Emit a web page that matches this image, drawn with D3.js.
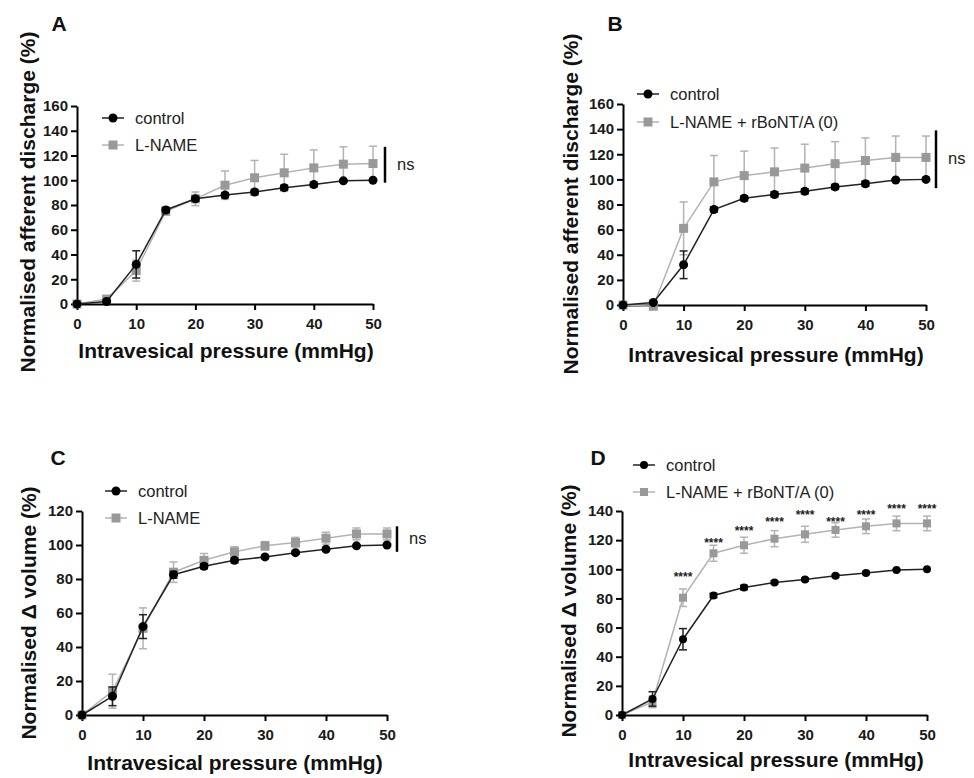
<!DOCTYPE html>
<html><head><meta charset="utf-8">
<script src="https://cdn.jsdelivr.net/npm/d3@7/dist/d3.min.js"></script>
<style>body{margin:0;background:#fff}svg{display:block}text{font-family:"Liberation Sans",Arial,sans-serif}</style>
</head><body>
<svg id="c" width="974" height="778"></svg>
<script>
const pressure = [0,5,10,15,20,25,30,35,40,45,50];
const xTicks = [0,10,20,30,40,50];
// Panel A: afferent discharge
const aControl = [0,2,32,76,85,88,90.5,94,96.5,99.5,100];
const aControlErr = [0,1,11,2,2,2,2,2,2,1,0];
const aLname = [0,4,27,75,85,96,102,106,110,113,113.5];
const aLnameErr = [0,2,8.5,3,5.5,11.5,14,15,14.5,14,14];
// Panel B
const bControl = aControl;
const bControlErr = aControlErr;
const bLname = [0,-1,61,98,103,106,109,112.5,115,117.5,117.5];
const bLnameErr = [0,1,21,21,19.5,19,19,17.5,18,17,17];
// Panel C: volume
const cControl = [0,11,52,82.5,87.5,91,93,95.5,97.5,99.5,100];
const cControlErr = [0,5.5,7,2,1.5,1.5,1,1,1,0.5,0];
const cLname = [0,14,51,84,91,96,99.5,101.5,104,106.5,106.5];
const cLnameErr = [0,10,12,6,4,3,2.5,3,3.5,3.5,3.5];
// Panel D
const dControl = [0,11,52,82,87.5,91,93,95.5,97.5,99.5,100];
const dControlErr = [0,5,7.3,1.5,1.5,1,1,1,1,0.5,0];
const dLname = [0,9,80.5,111,116.5,121,124,127,129.5,131.5,131.5];
const dLnameErr = [0,4,6,5.5,5.5,5.5,5.5,5,5,5,5];
const dStarY = [null,null,96.6,120,128,134,139,134,139,143,143];
const seriesNames = {A:["control","L-NAME"],B:["control","L-NAME + rBoNT/A (0)"],C:["control","L-NAME"],D:["control","L-NAME + rBoNT/A (0)"]};

const svg = d3.select("#c");
const GREY = "#999", GREYL = "#b3b3b3";

function panel(o){
  const g = svg.append("g");
  const x = d3.scaleLinear().domain([0,50]).range([o.x0,o.x1]);
  const y = d3.scaleLinear().domain([0,o.ymax]).range([o.y0,o.y1]);
  const xa = g.append("g").attr("transform",`translate(0,${o.y0})`)
    .call(d3.axisBottom(x).tickValues(xTicks).tickSize(6).tickSizeOuter(0).tickPadding(8));
  const ya = g.append("g").attr("transform",`translate(${o.x0},0)`)
    .call(d3.axisLeft(y).tickValues(d3.range(0,o.ymax+1,20)).tickSize(6).tickSizeOuter(0).tickPadding(3));
  [xa,ya].forEach(a=>{
    a.select(".domain").attr("stroke","#000").attr("stroke-width",2);
    a.selectAll(".tick line").attr("stroke","#000").attr("stroke-width",2);
    a.selectAll(".tick text").attr("fill","#1a1a1a").attr("font-size",15).attr("font-weight","bold");
  });
  const line = d3.line().x((d,i)=>x(pressure[i])).y(d=>y(d));
  const r = o.r;
  function errs(vals, err, col){
    const eg = g.append("g").attr("stroke",col).attr("stroke-width",1.5).attr("fill","none");
    vals.forEach((v,i)=>{
      if(err[i]<=0) return;
      const cx = x(pressure[i]);
      eg.append("line").attr("x1",cx).attr("x2",cx).attr("y1",y(v-err[i])).attr("y2",y(v+err[i]));
      [v-err[i],v+err[i]].forEach(e=>eg.append("line").attr("x1",cx-4).attr("x2",cx+4).attr("y1",y(e)).attr("y2",y(e)));
    });
  }
  errs(o.s2, o.e2, GREYL);
  g.append("path").attr("d",line(o.s2)).attr("fill","none").attr("stroke",GREYL).attr("stroke-width",1.5);
  g.selectAll(null).data(o.s2).enter().append("rect")
    .attr("x",(d,i)=>x(pressure[i])-r).attr("y",d=>y(d)-r).attr("width",2*r).attr("height",2*r).attr("fill",GREY);
  errs(o.s1, o.e1, "#222");
  g.append("path").attr("d",line(o.s1)).attr("fill","none").attr("stroke","#222").attr("stroke-width",1.5);
  g.selectAll(null).data(o.s1).enter().append("circle")
    .attr("cx",(d,i)=>x(pressure[i])).attr("cy",d=>y(d)).attr("r",r).attr("fill","#000");
  const names = seriesNames[o.id];
  [[o.ly1,"#222","c"],[o.ly2,GREYL,"s"]].forEach((L,k)=>{
    g.append("line").attr("x1",o.lx).attr("x2",o.lx+22).attr("y1",L[0]).attr("y2",L[0]).attr("stroke",L[1]).attr("stroke-width",1.5);
    if(L[2]==="c") g.append("circle").attr("cx",o.lx+11).attr("cy",L[0]).attr("r",r).attr("fill","#000");
    else g.append("rect").attr("x",o.lx+11-r).attr("y",L[0]-r).attr("width",2*r).attr("height",2*r).attr("fill",GREY);
    g.append("text").attr("x",o.lx+33).attr("y",L[0]).attr("dy","0.36em").attr("font-size",16.5).attr("fill","#222").text(names[k]);
  });
  g.append("text").attr("x",o.xtx).attr("y",o.xty).attr("text-anchor","middle").attr("font-size",21).attr("font-weight","bold").attr("fill","#111").text("Intravesical pressure (mmHg)");
  g.append("text").attr("transform",`translate(${o.ytx},${o.yty}) rotate(-90)`).attr("text-anchor","middle").attr("dy","0.36em").attr("font-size",21).attr("font-weight","bold").attr("fill","#111").text(o.ytitle);
  g.append("text").attr("x",o.labx).attr("y",o.laby).attr("dy","0.36em").attr("text-anchor","middle").attr("font-size",21).attr("font-weight","bold").attr("fill","#111").text(o.id);
  if(o.ns){
    g.append("line").attr("x1",o.ns[0]).attr("x2",o.ns[0]).attr("y1",y(o.ns[1])).attr("y2",y(o.ns[2])).attr("stroke","#000").attr("stroke-width",2.5);
    g.append("text").attr("x",o.ns[0]+12).attr("y",(y(o.ns[1])+y(o.ns[2]))/2).attr("dy","0.3em").attr("font-size",16.5).attr("fill","#222").text("ns");
  }
  if(o.stars){
    o.stars.forEach((s,i)=>{ if(s==null) return;
      g.append("text").attr("x",x(pressure[i])).attr("y",y(s)).attr("dy","0.55em").attr("text-anchor","middle").attr("font-size",12).attr("font-weight","bold").attr("fill","#222").text("****");
    });
  }
}

panel({id:"A",x0:77,x1:373,y0:304,y1:106,ymax:160,r:4.5,s1:aControl,e1:aControlErr,s2:aLname,e2:aLnameErr,
  lx:102,ly1:118,ly2:145,xtx:226,xty:358,ytx:27,yty:202,ytitle:"Normalised afferent discharge (%)",labx:59,laby:23,ns:[385,127,98]});
panel({id:"B",x0:623,x1:926,y0:305,y1:104,ymax:160,r:4.5,s1:bControl,e1:bControlErr,s2:bLname,e2:bLnameErr,
  lx:637,ly1:94,ly2:122,xtx:776,xty:362,ytx:570,yty:204,ytitle:"Normalised afferent discharge (%)",labx:615,laby:23,ns:[936,139,93]});
panel({id:"C",x0:82,x1:387,y0:715,y1:511,ymax:120,r:4.5,s1:cControl,e1:cControlErr,s2:cLname,e2:cLnameErr,
  lx:105,ly1:491,ly2:518,xtx:235,xty:770,ytx:28,yty:613,ytitle:"Normalised \u0394 volume (%)",labx:58,laby:457,ns:[397,111,96]});
panel({id:"D",x0:622,x1:927,y0:715,y1:511,ymax:140,r:4,s1:dControl,e1:dControlErr,s2:dLname,e2:dLnameErr,
  lx:633,ly1:465,ly2:492,xtx:776,xty:767,ytx:568,yty:611,ytitle:"Normalised \u0394 volume (%)",labx:598,laby:457,stars:dStarY});
</script>
</body></html>
